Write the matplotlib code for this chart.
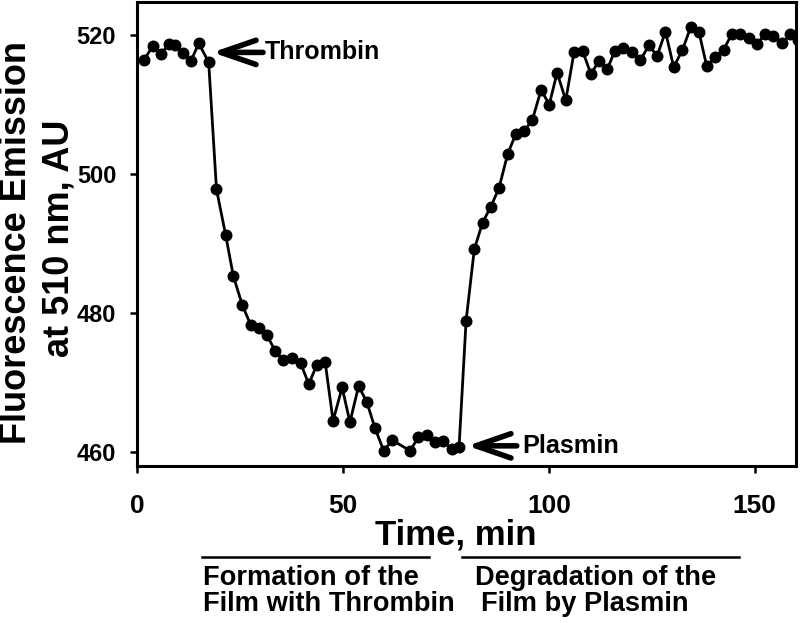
import matplotlib
matplotlib.use("Agg")
import matplotlib.pyplot as plt

plt.rcParams['font.family'] = ['Liberation Sans', 'DejaVu Sans']
plt.rcParams['font.weight'] = 'bold'

time_min = [1.7, 3.8, 5.8, 7.8, 9.2, 11.1, 13.1, 15.0, 17.4, 19.3, 21.5,
            23.4, 25.6, 27.6, 29.6, 31.5, 33.5, 35.5, 37.7, 39.7, 41.7, 43.7, 45.7,
            47.6, 49.8, 51.7, 53.8, 55.8, 57.8, 59.9, 62.0, 66.3, 68.3, 70.3, 72.3,
            74.3, 76.4, 78.2, 79.9, 81.9,
            83.9, 85.9, 87.9, 90.0, 92.0, 94.0, 96.0, 98.1, 100.1, 102.0, 104.1,
            106.1, 108.2, 110.2, 112.2, 114.2, 116.0, 118.0, 120.2, 122.2, 124.3,
            126.3, 128.3, 130.3, 132.4, 134.4, 136.4, 138.3, 140.4, 142.4, 144.4,
            146.4, 148.5, 150.5, 152.5, 154.5, 156.6, 158.6, 160.6]
emission = [516.4, 518.4, 517.3, 518.7, 518.6, 517.4, 516.3, 518.8, 516.1, 497.8, 491.3,
            485.3, 481.1, 478.3, 477.8, 476.9, 474.6, 473.2, 473.6, 472.8, 469.8, 472.6, 472.9,
            464.5, 469.3, 464.3, 469.5, 467.2, 463.4, 460.2, 461.7, 460.2, 462.1, 462.5, 461.4,
            461.6, 460.4, 460.8, 478.9, 489.2,
            493.0, 495.3, 498.0, 502.9, 505.8, 506.2, 507.8, 512.1, 510.0, 514.6, 510.6,
            517.5, 517.7, 514.4, 516.3, 515.1, 517.7, 518.1, 517.6, 516.4, 518.5,
            517.0, 520.5, 515.4, 517.8, 521.1, 520.5, 515.6, 516.8, 517.9, 520.1,
            520.1, 519.5, 518.7, 520.1, 519.8, 518.8, 520.1, 519.3]

x_ticks = [0, 50, 100, 150]
y_ticks = [460, 480, 500, 520]

W, H = 800, 623
fig = plt.figure(figsize=(8.0, 6.23), dpi=100)
ax = fig.add_axes([137 / W, 1 - 466 / H, (796 - 137) / W, (466 - 2) / H])

ax.plot(time_min, emission, color='black', lw=2.0, marker='o', ms=7.6,
        markerfacecolor='black', markeredgecolor='black')

ax.set_xlim(0, 160)
ax.set_ylim(458.0, 524.75)
ax.set_xticks(x_ticks)
ax.set_yticks(y_ticks)
for s in ax.spines.values():
    s.set_linewidth(2.2)
ax.tick_params(axis='both', direction='out', length=5, width=1.8, color='black')
ax.tick_params(axis='x', pad=15, labelsize=19)
ax.tick_params(axis='y', pad=10, labelsize=17)
for lab in ax.get_xticklabels() + ax.get_yticklabels():
    lab.set_fontweight('bold')

# arrows
arrow_style = '->, head_length=0.55, head_width=0.19'
ax.annotate('', xy=(18.3, 517.5), xytext=(30.6, 517.5),
            arrowprops=dict(arrowstyle=arrow_style, lw=4.0, color='black',
                            mutation_scale=46, shrinkA=0, shrinkB=0,
                            capstyle='round', joinstyle='round'))
ax.text(31.0, 517.5, 'Thrombin', fontsize=18, fontweight='bold',
        ha='left', va='center')
ax.annotate('', xy=(80.2, 460.9), xytext=(92.2, 460.9),
            arrowprops=dict(arrowstyle=arrow_style, lw=4.0, color='black',
                            mutation_scale=46, shrinkA=0, shrinkB=0,
                            capstyle='round', joinstyle='round'))
ax.text(93.6, 460.9, 'Plasmin', fontsize=18.2, fontweight='bold',
        ha='left', va='center')

# axis labels
fig.text(456 / W, 1 - 544 / H, 'Time, min', fontsize=25, fontweight='bold',
         ha='center', va='baseline')
fig.text(26 / W, 1 - 242.5 / H, 'Fluorescence Emission', fontsize=26,
         fontweight='bold', rotation=90, rotation_mode='anchor',
         ha='center', va='baseline')
fig.text(68 / W, 1 - 238 / H, 'at 510 nm, AU', fontsize=26,
         fontweight='bold', rotation=90, rotation_mode='anchor',
         ha='center', va='baseline')

# phase annotations
fig.add_artist(plt.Line2D([202 / W, 429 / W], [1 - 556.5 / H, 1 - 556.5 / H],
                          color='black', lw=1.8))
fig.add_artist(plt.Line2D([462 / W, 739 / W], [1 - 556.5 / H, 1 - 556.5 / H],
                          color='black', lw=1.8))
fig.text(203 / W, 1 - 585 / H, 'Formation of the', fontsize=19.6, fontweight='bold',
         ha='left', va='baseline')
fig.text(203 / W, 1 - 611 / H, 'Film with Thrombin', fontsize=19.6, fontweight='bold',
         ha='left', va='baseline')
fig.text(475 / W, 1 - 585 / H, 'Degradation of the', fontsize=19.6, fontweight='bold',
         ha='left', va='baseline')
fig.text(481 / W, 1 - 611 / H, 'Film by Plasmin', fontsize=19.6, fontweight='bold',
         ha='left', va='baseline')

fig.savefig('out.png', dpi=100)
